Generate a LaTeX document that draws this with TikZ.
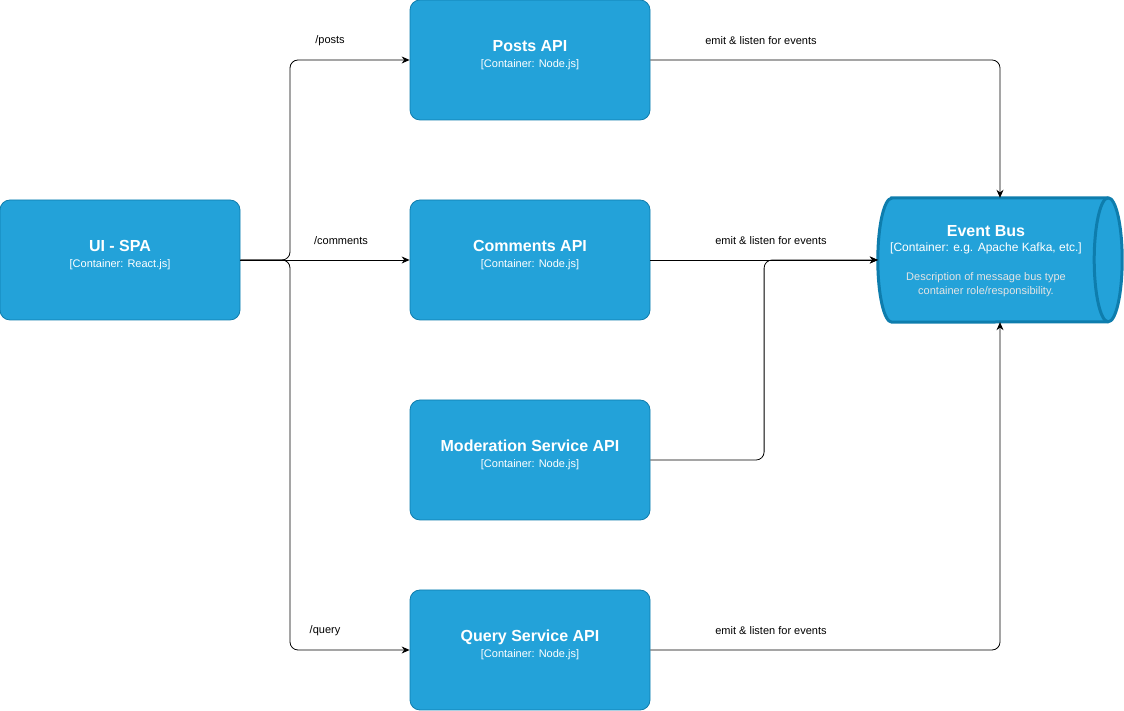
\documentclass[tikz,border=0pt]{standalone}
\usepackage{fontspec}
\setmainfont{Liberation Sans}
\usetikzlibrary{arrows.meta,positioning,calc}
\definecolor{c4fill}{HTML}{23A2D9}
\definecolor{c4line}{HTML}{0E7DAD}
\definecolor{c4desc}{HTML}{E4E4E4}
\newcommand{\boxtext}[2]{{\fontsize{16}{17}\selectfont\bfseries #1}\\[4pt]{\fontsize{11}{13}\selectfont #2}}

\tikzset{
  >={Stealth[length=8pt,width=7pt]},
  container/.style={rectangle,rounded corners=10pt,draw=c4line,fill=c4fill,
    line width=0.8pt,minimum width=240pt,minimum height=120pt},
  ctext/.style={text=white,align=center,inner sep=0pt},
  desc/.style={text=c4desc,align=center,font=\fontsize{11}{14}\selectfont,inner sep=0pt},
  lbl/.style={font=\fontsize{11}{13}\selectfont,inner sep=0pt},
  flow/.style={->,line width=0.8pt,rounded corners=8pt},
  busline/.style={draw=c4line,fill=c4fill,line width=3pt}
}

\begin{document}
\begin{tikzpicture}[x=1pt,y=1pt]
  \useasboundingbox (0,0) rectangle (1124,711);

  \node [container] (ui) at (120,451) {};
  \node [container] (posts) at (530,651) {};
  \node [container] (comments) at (530,451) {};
  \node [container] (moderation) at (530,251) {};
  \node [container] (query) at (530,61) {};
  \node [minimum width=244pt,minimum height=124pt,inner sep=0pt] (bus) at (1000,451) {};

  % event bus cylinder
  \draw[busline] ($(bus.north west)+(14,0)$) -- ($(bus.north east)+(-14,0)$)
    arc[start angle=90,end angle=-90,x radius=14pt,y radius=62pt]
    -- ($(bus.south west)+(14,0)$)
    arc[start angle=270,end angle=90,x radius=14pt,y radius=62pt] -- cycle;
  \draw[busline,fill=none] ($(bus.north east)+(-14,0)$)
    arc[start angle=90,end angle=270,x radius=14pt,y radius=62pt];

  \node [ctext] (ui-t) at ([yshift=5pt]ui.center) {\boxtext{UI - SPA}{[Container: React.js]}};
  \node [ctext] (posts-t) at ([yshift=5pt]posts.center) {\boxtext{Posts API}{[Container: Node.js]}};
  \node [ctext] (comments-t) at ([yshift=5pt]comments.center) {\boxtext{Comments API}{[Container: Node.js]}};
  \node [ctext] (moderation-t) at ([yshift=5pt]moderation.center) {\boxtext{Moderation Service API}{[Container: Node.js]}};
  \node [ctext] (query-t) at ([yshift=5pt]query.center) {\boxtext{Query Service API}{[Container: Node.js]}};
  \node [ctext] (bus-t) at (986,471) {{\fontsize{16}{17}\selectfont\bfseries Event Bus}\\[3pt]{\fontsize{12}{14}\selectfont [Container: e.g. Apache Kafka, etc.]}};
  \node [desc] (bus-d) at (986,426) {Description of message bus type\\container role/responsibility.};

  \coordinate (fork) at (290,451);
  \draw[flow] (ui.east) -- (fork) |- (posts.west);
  \draw[flow] (ui.east) -- (comments.west);
  \draw[flow] (ui.east) -- (fork) |- (query.west);

  \draw[flow] (posts.east) -| (bus.north);
  \draw[flow] (comments.east) -- (bus.west);
  \draw[flow] (moderation.east) -| ($(moderation.east)!.5!(bus.west)$) |- (bus.west);
  \draw[flow] (query.east) -| (bus.south);

  \node [lbl] (l-posts) at (330,670) {/posts};
  \node [lbl] (l-comments) at (341,470) {/comments};
  \node [lbl] (l-query) at (325,80) {/query};
  \node [lbl] (e-posts) at (761,670) {emit \& listen for events};
  \node [lbl] (e-comments) at (771,470) {emit \& listen for events};
  \node [lbl] (e-query) at (771,80) {emit \& listen for events};
\end{tikzpicture}
\end{document}
